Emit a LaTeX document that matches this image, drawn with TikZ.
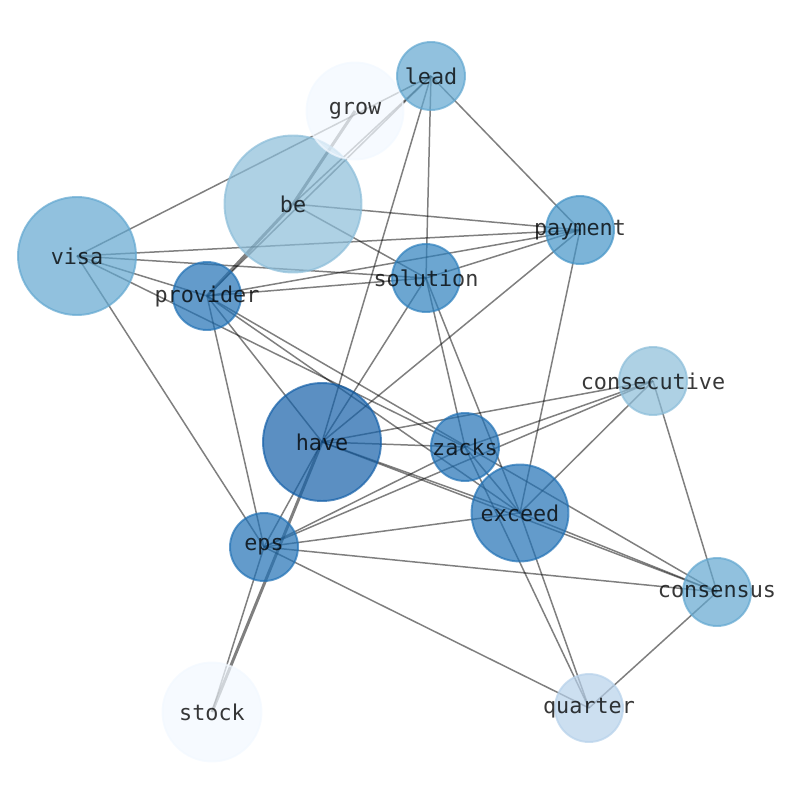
\documentclass[tikz,border=0pt]{standalone}
\usepackage{fontspec}
\setmonofont{DejaVu Sans Mono}
\usepackage{tikz}
\usetikzlibrary{backgrounds,positioning}

\definecolor{bluedeep}{RGB}{21,96,168}
\definecolor{bluemid}{RGB}{33,113,181}
\definecolor{bluesol}{RGB}{46,128,189}
\definecolor{bluepay}{RGB}{68,148,199}
\definecolor{bluelight}{RGB}{98,167,208}
\definecolor{bluepale}{RGB}{139,189,217}
\definecolor{bluequart}{RGB}{182,209,234}
\definecolor{bluewhite}{RGB}{242,248,255}

% label that does not widen its circle
\newcommand{\wordtext}[1]{\makebox[0pt]{#1}}

\begin{document}
\begin{tikzpicture}[x=0.02cm, y=-0.02cm]
% STYLES
\tikzset{
    word/.style 2 args={circle, draw=#1, fill=#1, fill opacity=0.7,
    draw opacity=0.7, line width=1.1pt, minimum size=#2, inner sep=0pt,
    text=black, text opacity=0.78, font=\ttfamily\fontsize{12.4}{14}\selectfont},
    link/.style={draw=black, draw opacity=0.5, line width=0.85pt},
    heavy/.style={link, line width=1.7pt}
}
\useasboundingbox (0,0) rectangle (794,790);

\node [word={bluelight}{2.36cm}] (visa) at (77,256) {\wordtext{visa}};
\node [word={bluepale}{2.74cm}] (be) at (293,204) {\wordtext{be}};
\node [word={bluewhite}{1.94cm}] (grow) at (355,111) {\wordtext{grow}};
\node [word={bluelight}{1.36cm}] (lead) at (431,76) {\wordtext{lead}};
\node [word={bluepay}{1.36cm}] (payment) at (580,230) {\wordtext{payment}};
\node [word={bluemid}{1.36cm}] (provider) at (207,296) {\wordtext{provider}};
\node [word={bluesol}{1.36cm}] (solution) at (426,278) {\wordtext{solution}};
\node [word={bluepale}{1.36cm}] (consecutive) at (653,381) {\wordtext{consecutive}};
\node [word={bluedeep}{2.36cm}] (have) at (322,442) {\wordtext{have}};
\node [word={bluemid}{1.36cm}] (zacks) at (465,447) {\wordtext{zacks}};
\node [word={bluemid}{1.94cm}] (exceed) at (520,513) {\wordtext{exceed}};
\node [word={bluemid}{1.36cm}] (eps) at (264,547) {\wordtext{eps}};
\node [word={bluelight}{1.36cm}] (consensus) at (717,592) {\wordtext{consensus}};
\node [word={bluewhite}{1.98cm}] (stock) at (212,712) {\wordtext{stock}};
\node [word={bluequart}{1.36cm}] (quarter) at (589,708) {\wordtext{quarter}};

% Draw the links between
\begin{scope}[on background layer]
\path[link]
  (visa.center) edge (lead.center)
  (visa.center) edge (payment.center)
  (visa.center) edge (solution.center)
  (visa.center) edge (provider.center)
  (visa.center) edge (zacks.center)
  (visa.center) edge (eps.center)
  (be.center) edge (lead.center)
  (be.center) edge (payment.center)
  (be.center) edge (solution.center)
  (lead.center) edge (provider.center)
  (lead.center) edge (have.center)
  (lead.center) edge (solution.center)
  (lead.center) edge (payment.center)
  (provider.center) edge (payment.center)
  (provider.center) edge (solution.center)
  (provider.center) edge (have.center)
  (provider.center) edge (eps.center)
  (provider.center) edge (exceed.center)
  (provider.center) edge (consensus.center)
  (solution.center) edge (payment.center)
  (solution.center) edge (have.center)
  (solution.center) edge (zacks.center)
  (solution.center) edge (exceed.center)
  (payment.center) edge (have.center)
  (payment.center) edge (exceed.center)
  (have.center) edge (zacks.center)
  (have.center) edge (exceed.center)
  (have.center) edge (consensus.center)
  (have.center) edge (consecutive.center)
  (have.center) edge (eps.center)
  (eps.center) edge (stock.center)
  (eps.center) edge (zacks.center)
  (eps.center) edge (consecutive.center)
  (eps.center) edge (exceed.center)
  (eps.center) edge (consensus.center)
  (eps.center) edge (quarter.center)
  (zacks.center) edge (consecutive.center)
  (zacks.center) edge (exceed.center)
  (zacks.center) edge (quarter.center)
  (exceed.center) edge (consecutive.center)
  (exceed.center) edge (consensus.center)
  (exceed.center) edge (quarter.center)
  (consecutive.center) edge (consensus.center)
  (consensus.center) edge (quarter.center);
\path[heavy]
  (be.center) edge (grow.center)
  (be.center) edge (provider.center)
  (have.center) edge (stock.center);
\end{scope}
\end{tikzpicture}
\end{document}
